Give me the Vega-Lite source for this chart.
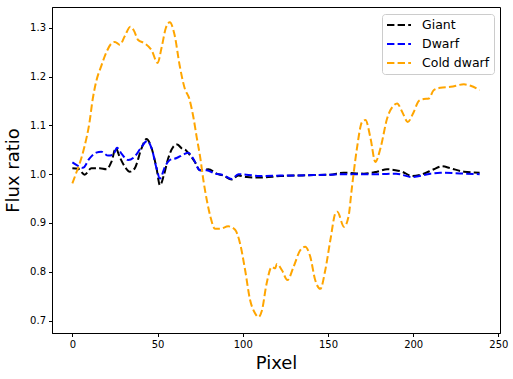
{
  "$schema": "https://vega.github.io/schema/vega-lite/v6.json",
  "autosize": {"type": "none"},
  "padding": {"left": 52, "top": 7, "right": 13, "bottom": 46},
  "width": 448,
  "height": 326,
  "background": "white",
  "config": {
    "font": "DejaVu Sans",
    "view": {"stroke": "black", "strokeWidth": 1},
    "axis": {
      "grid": false,
      "domainColor": "black",
      "tickColor": "black",
      "tickSize": 3.5,
      "labelFontSize": 10,
      "labelColor": "black",
      "labelFont": "DejaVu Sans",
      "titleFont": "DejaVu Sans",
      "titleFontSize": 18,
      "titleFontWeight": "normal",
      "titleColor": "black"
    },
    "legend": {
      "orient": "top-right",
      "offset": 6.5,
      "fillColor": "rgba(255,255,255,0.8)",
      "strokeColor": "#cccccc",
      "cornerRadius": 3,
      "padding": 4,
      "labelFontSize": 12.5,
      "labelColor": "black",
      "labelFont": "DejaVu Sans",
      "symbolType": "stroke",
      "symbolStrokeWidth": 2,
      "symbolDash": [7.4, 3.2],
      "symbolSize": 576,
      "clipHeight": 14,
      "rowPadding": 5,
      "labelOffset": 10
    }
  },
  "datasets": {
    "rows": [
      {"star": "Giant", "pixel": 0, "ratio": 1.012},
      {"star": "Giant", "pixel": 3.3, "ratio": 1.011},
      {"star": "Giant", "pixel": 7.2, "ratio": 0.999},
      {"star": "Giant", "pixel": 11.2, "ratio": 1.012},
      {"star": "Giant", "pixel": 16.1, "ratio": 1.012},
      {"star": "Giant", "pixel": 20, "ratio": 1.010},
      {"star": "Giant", "pixel": 22.9, "ratio": 1.025},
      {"star": "Giant", "pixel": 25.5, "ratio": 1.053},
      {"star": "Giant", "pixel": 27.8, "ratio": 1.035},
      {"star": "Giant", "pixel": 30.8, "ratio": 1.015},
      {"star": "Giant", "pixel": 33.7, "ratio": 1.005},
      {"star": "Giant", "pixel": 36.6, "ratio": 1.012},
      {"star": "Giant", "pixel": 40.6, "ratio": 1.053},
      {"star": "Giant", "pixel": 43.5, "ratio": 1.072},
      {"star": "Giant", "pixel": 46.5, "ratio": 1.053},
      {"star": "Giant", "pixel": 49.4, "ratio": 1.012},
      {"star": "Giant", "pixel": 51.4, "ratio": 0.977},
      {"star": "Giant", "pixel": 53.7, "ratio": 0.998},
      {"star": "Giant", "pixel": 56.2, "ratio": 1.032},
      {"star": "Giant", "pixel": 59.2, "ratio": 1.056},
      {"star": "Giant", "pixel": 61.5, "ratio": 1.061},
      {"star": "Giant", "pixel": 64.1, "ratio": 1.053},
      {"star": "Giant", "pixel": 66.6, "ratio": 1.049},
      {"star": "Giant", "pixel": 69, "ratio": 1.039},
      {"star": "Giant", "pixel": 71.9, "ratio": 1.025},
      {"star": "Giant", "pixel": 74.9, "ratio": 1.008},
      {"star": "Giant", "pixel": 79.8, "ratio": 1.010},
      {"star": "Giant", "pixel": 84.7, "ratio": 1.001},
      {"star": "Giant", "pixel": 88.6, "ratio": 0.997},
      {"star": "Giant", "pixel": 93.5, "ratio": 0.989},
      {"star": "Giant", "pixel": 97.4, "ratio": 0.997},
      {"star": "Giant", "pixel": 102.4, "ratio": 0.994},
      {"star": "Giant", "pixel": 110.2, "ratio": 0.993},
      {"star": "Giant", "pixel": 122, "ratio": 0.996},
      {"star": "Giant", "pixel": 141.5, "ratio": 0.998},
      {"star": "Giant", "pixel": 151.4, "ratio": 0.999},
      {"star": "Giant", "pixel": 159.2, "ratio": 1.003},
      {"star": "Giant", "pixel": 171, "ratio": 1.001},
      {"star": "Giant", "pixel": 178.8, "ratio": 1.005},
      {"star": "Giant", "pixel": 184.7, "ratio": 1.010},
      {"star": "Giant", "pixel": 189.6, "ratio": 1.008},
      {"star": "Giant", "pixel": 193.5, "ratio": 1.005},
      {"star": "Giant", "pixel": 199.4, "ratio": 0.996},
      {"star": "Giant", "pixel": 206.2, "ratio": 1.001},
      {"star": "Giant", "pixel": 212.1, "ratio": 1.010},
      {"star": "Giant", "pixel": 217, "ratio": 1.016},
      {"star": "Giant", "pixel": 221.9, "ratio": 1.012},
      {"star": "Giant", "pixel": 229.8, "ratio": 1.005},
      {"star": "Giant", "pixel": 239, "ratio": 1.003},

      {"star": "Dwarf", "pixel": 0, "ratio": 1.024},
      {"star": "Dwarf", "pixel": 3.3, "ratio": 1.017},
      {"star": "Dwarf", "pixel": 6.2, "ratio": 1.013},
      {"star": "Dwarf", "pixel": 10, "ratio": 1.032},
      {"star": "Dwarf", "pixel": 14, "ratio": 1.044},
      {"star": "Dwarf", "pixel": 17, "ratio": 1.046},
      {"star": "Dwarf", "pixel": 21, "ratio": 1.038},
      {"star": "Dwarf", "pixel": 24, "ratio": 1.040},
      {"star": "Dwarf", "pixel": 26.2, "ratio": 1.054},
      {"star": "Dwarf", "pixel": 28.8, "ratio": 1.042},
      {"star": "Dwarf", "pixel": 32.7, "ratio": 1.029},
      {"star": "Dwarf", "pixel": 36.6, "ratio": 1.036},
      {"star": "Dwarf", "pixel": 40.6, "ratio": 1.056},
      {"star": "Dwarf", "pixel": 43.9, "ratio": 1.068},
      {"star": "Dwarf", "pixel": 46.5, "ratio": 1.053},
      {"star": "Dwarf", "pixel": 49.4, "ratio": 1.012},
      {"star": "Dwarf", "pixel": 51.4, "ratio": 0.991},
      {"star": "Dwarf", "pixel": 54.3, "ratio": 1.015},
      {"star": "Dwarf", "pixel": 57.2, "ratio": 1.029},
      {"star": "Dwarf", "pixel": 61.2, "ratio": 1.033},
      {"star": "Dwarf", "pixel": 65.1, "ratio": 1.040},
      {"star": "Dwarf", "pixel": 68, "ratio": 1.044},
      {"star": "Dwarf", "pixel": 70.9, "ratio": 1.032},
      {"star": "Dwarf", "pixel": 74.9, "ratio": 1.008},
      {"star": "Dwarf", "pixel": 78.8, "ratio": 1.008},
      {"star": "Dwarf", "pixel": 83.7, "ratio": 1.001},
      {"star": "Dwarf", "pixel": 88.6, "ratio": 0.998},
      {"star": "Dwarf", "pixel": 93.5, "ratio": 0.990},
      {"star": "Dwarf", "pixel": 97.4, "ratio": 1.000},
      {"star": "Dwarf", "pixel": 102, "ratio": 0.999},
      {"star": "Dwarf", "pixel": 110, "ratio": 0.996},
      {"star": "Dwarf", "pixel": 122, "ratio": 0.997},
      {"star": "Dwarf", "pixel": 141.5, "ratio": 0.998},
      {"star": "Dwarf", "pixel": 151.4, "ratio": 0.999},
      {"star": "Dwarf", "pixel": 160, "ratio": 1.000},
      {"star": "Dwarf", "pixel": 171, "ratio": 1.000},
      {"star": "Dwarf", "pixel": 179, "ratio": 1.000},
      {"star": "Dwarf", "pixel": 190, "ratio": 1.001},
      {"star": "Dwarf", "pixel": 199.4, "ratio": 0.994},
      {"star": "Dwarf", "pixel": 210.2, "ratio": 1.001},
      {"star": "Dwarf", "pixel": 216, "ratio": 1.003},
      {"star": "Dwarf", "pixel": 229.8, "ratio": 1.001},
      {"star": "Dwarf", "pixel": 239, "ratio": 1.000},

      {"star": "Cold dwarf", "pixel": 0, "ratio": 0.981},
      {"star": "Cold dwarf", "pixel": 2, "ratio": 1.000},
      {"star": "Cold dwarf", "pixel": 4.3, "ratio": 1.022},
      {"star": "Cold dwarf", "pixel": 7, "ratio": 1.055},
      {"star": "Cold dwarf", "pixel": 10, "ratio": 1.105},
      {"star": "Cold dwarf", "pixel": 12, "ratio": 1.155},
      {"star": "Cold dwarf", "pixel": 14, "ratio": 1.190},
      {"star": "Cold dwarf", "pixel": 17, "ratio": 1.222},
      {"star": "Cold dwarf", "pixel": 20, "ratio": 1.250},
      {"star": "Cold dwarf", "pixel": 23, "ratio": 1.268},
      {"star": "Cold dwarf", "pixel": 25, "ratio": 1.271},
      {"star": "Cold dwarf", "pixel": 27.8, "ratio": 1.265},
      {"star": "Cold dwarf", "pixel": 30.8, "ratio": 1.283},
      {"star": "Cold dwarf", "pixel": 34, "ratio": 1.302},
      {"star": "Cold dwarf", "pixel": 36, "ratio": 1.295},
      {"star": "Cold dwarf", "pixel": 38.6, "ratio": 1.275},
      {"star": "Cold dwarf", "pixel": 42.5, "ratio": 1.268},
      {"star": "Cold dwarf", "pixel": 46.5, "ratio": 1.254},
      {"star": "Cold dwarf", "pixel": 50, "ratio": 1.228},
      {"star": "Cold dwarf", "pixel": 52.4, "ratio": 1.260},
      {"star": "Cold dwarf", "pixel": 54.9, "ratio": 1.300},
      {"star": "Cold dwarf", "pixel": 57.2, "ratio": 1.311},
      {"star": "Cold dwarf", "pixel": 60, "ratio": 1.285},
      {"star": "Cold dwarf", "pixel": 63, "ratio": 1.222},
      {"star": "Cold dwarf", "pixel": 66, "ratio": 1.175},
      {"star": "Cold dwarf", "pixel": 68.6, "ratio": 1.155},
      {"star": "Cold dwarf", "pixel": 71, "ratio": 1.117},
      {"star": "Cold dwarf", "pixel": 73, "ratio": 1.075},
      {"star": "Cold dwarf", "pixel": 75, "ratio": 1.035},
      {"star": "Cold dwarf", "pixel": 77, "ratio": 0.985},
      {"star": "Cold dwarf", "pixel": 79, "ratio": 0.945},
      {"star": "Cold dwarf", "pixel": 81, "ratio": 0.913},
      {"star": "Cold dwarf", "pixel": 83.7, "ratio": 0.888},
      {"star": "Cold dwarf", "pixel": 86.6, "ratio": 0.888},
      {"star": "Cold dwarf", "pixel": 91.5, "ratio": 0.893},
      {"star": "Cold dwarf", "pixel": 95.5, "ratio": 0.886},
      {"star": "Cold dwarf", "pixel": 98.4, "ratio": 0.858},
      {"star": "Cold dwarf", "pixel": 101.4, "ratio": 0.803},
      {"star": "Cold dwarf", "pixel": 104.3, "ratio": 0.742},
      {"star": "Cold dwarf", "pixel": 107.2, "ratio": 0.715},
      {"star": "Cold dwarf", "pixel": 109.2, "ratio": 0.707},
      {"star": "Cold dwarf", "pixel": 111.2, "ratio": 0.720},
      {"star": "Cold dwarf", "pixel": 114, "ratio": 0.776},
      {"star": "Cold dwarf", "pixel": 117, "ratio": 0.810},
      {"star": "Cold dwarf", "pixel": 119, "ratio": 0.807},
      {"star": "Cold dwarf", "pixel": 120, "ratio": 0.816},
      {"star": "Cold dwarf", "pixel": 123, "ratio": 0.803},
      {"star": "Cold dwarf", "pixel": 126.2, "ratio": 0.783},
      {"star": "Cold dwarf", "pixel": 129.8, "ratio": 0.810},
      {"star": "Cold dwarf", "pixel": 133.7, "ratio": 0.844},
      {"star": "Cold dwarf", "pixel": 136.6, "ratio": 0.851},
      {"star": "Cold dwarf", "pixel": 139.6, "ratio": 0.831},
      {"star": "Cold dwarf", "pixel": 142.5, "ratio": 0.783},
      {"star": "Cold dwarf", "pixel": 145.5, "ratio": 0.765},
      {"star": "Cold dwarf", "pixel": 148.4, "ratio": 0.803},
      {"star": "Cold dwarf", "pixel": 151.4, "ratio": 0.865},
      {"star": "Cold dwarf", "pixel": 154.5, "ratio": 0.921},
      {"star": "Cold dwarf", "pixel": 155.5, "ratio": 0.923},
      {"star": "Cold dwarf", "pixel": 159.4, "ratio": 0.892},
      {"star": "Cold dwarf", "pixel": 162, "ratio": 0.912},
      {"star": "Cold dwarf", "pixel": 164, "ratio": 0.971},
      {"star": "Cold dwarf", "pixel": 167, "ratio": 1.053},
      {"star": "Cold dwarf", "pixel": 170, "ratio": 1.107},
      {"star": "Cold dwarf", "pixel": 172, "ratio": 1.111},
      {"star": "Cold dwarf", "pixel": 175, "ratio": 1.073},
      {"star": "Cold dwarf", "pixel": 177.8, "ratio": 1.025},
      {"star": "Cold dwarf", "pixel": 180.8, "ratio": 1.053},
      {"star": "Cold dwarf", "pixel": 184.7, "ratio": 1.114},
      {"star": "Cold dwarf", "pixel": 188.6, "ratio": 1.141},
      {"star": "Cold dwarf", "pixel": 190.6, "ratio": 1.145},
      {"star": "Cold dwarf", "pixel": 193.5, "ratio": 1.128},
      {"star": "Cold dwarf", "pixel": 196.8, "ratio": 1.107},
      {"star": "Cold dwarf", "pixel": 200.4, "ratio": 1.128},
      {"star": "Cold dwarf", "pixel": 203.3, "ratio": 1.150},
      {"star": "Cold dwarf", "pixel": 206.2, "ratio": 1.154},
      {"star": "Cold dwarf", "pixel": 209.2, "ratio": 1.155},
      {"star": "Cold dwarf", "pixel": 212, "ratio": 1.172},
      {"star": "Cold dwarf", "pixel": 216, "ratio": 1.177},
      {"star": "Cold dwarf", "pixel": 222, "ratio": 1.179},
      {"star": "Cold dwarf", "pixel": 229.8, "ratio": 1.184},
      {"star": "Cold dwarf", "pixel": 233.7, "ratio": 1.181},
      {"star": "Cold dwarf", "pixel": 239, "ratio": 1.172}
    ]
  },
  "data": {"name": "rows"},
  "mark": {"type": "line", "strokeWidth": 2, "strokeDash": [7.4, 3.2], "interpolate": "monotone", "clip": true},
  "encoding": {
    "x": {
      "field": "pixel", "type": "quantitative",
      "scale": {"domain": [-11.95, 250.95], "nice": false, "zero": false},
      "axis": {"values": [0, 50, 100, 150, 200, 250], "title": "Pixel", "titlePadding": 5, "labelPadding": 3}
    },
    "y": {
      "field": "ratio", "type": "quantitative",
      "scale": {"domain": [0.6745, 1.3425], "nice": false, "zero": false},
      "axis": {"values": [0.7, 0.8, 0.9, 1.0, 1.1, 1.2, 1.3], "format": ".1f", "title": "Flux ratio", "titlePadding": 7, "labelPadding": 3}
    },
    "color": {
      "field": "star", "type": "nominal",
      "scale": {"domain": ["Giant", "Dwarf", "Cold dwarf"], "range": ["black", "blue", "orange"]},
      "legend": {"title": null}
    },
    "order": {"field": "pixel", "type": "quantitative"}
  }
}
